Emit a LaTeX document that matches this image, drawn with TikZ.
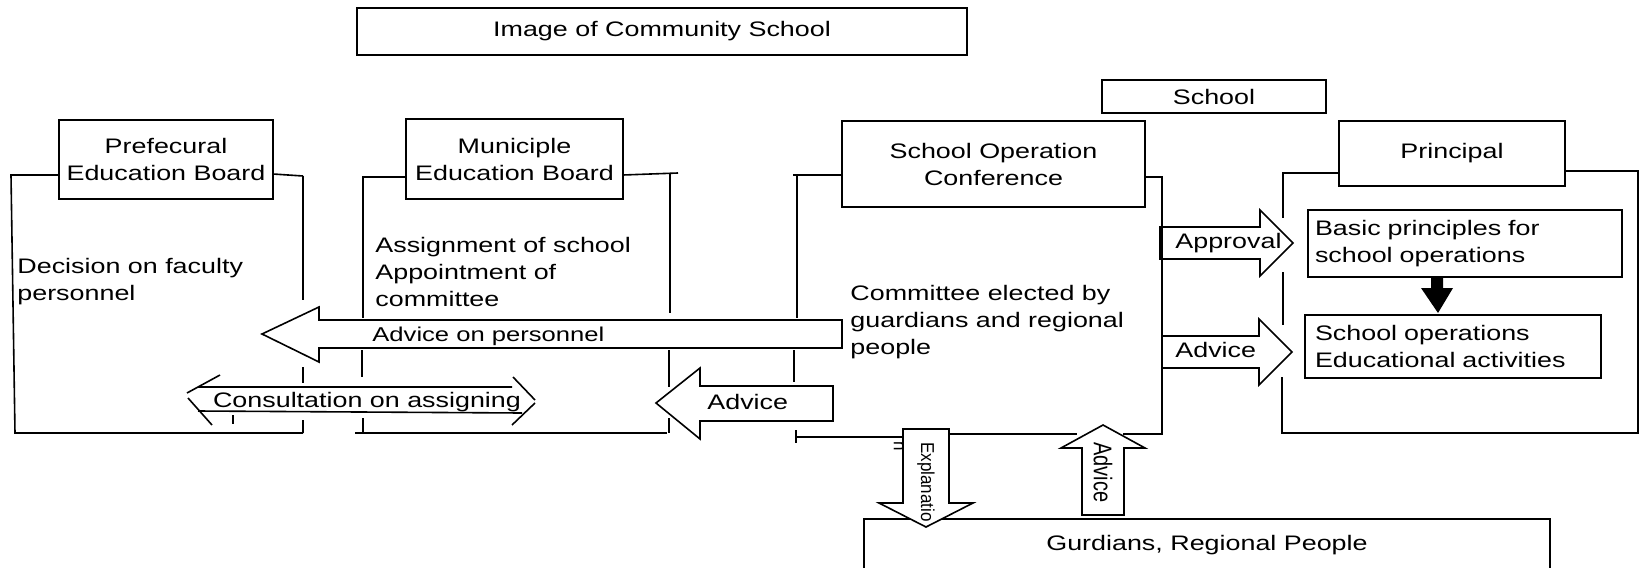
\documentclass[tikz,border=0pt]{standalone}
\usepackage{fontspec}
\setmainfont{Liberation Sans}[FakeStretch=1.28]
\newfontfamily\rotfont{Liberation Sans}
\begin{document}
\begin{tikzpicture}[x=0.5pt,y=-0.5pt,font=\fontsize{10.5}{13.5}\selectfont]
\tikzset{
  box/.style={draw, line width=0.8pt, align=center, inner sep=0pt},
  ln/.style={line width=0.8pt},
  blockarrow/.style={draw, fill=white, line width=0.8pt, line join=miter},
  lbl/.style={inner sep=0pt},
  txt/.style={inner sep=0pt, align=left, anchor=north west},
  rot/.style={inner sep=0pt, rotate=-90, anchor=west},
}
\useasboundingbox[fill=white] (0,0) rectangle (1641,567);

% boxes
\node[box, minimum width=305pt, minimum height=23.5pt] (title) at (662,31.5) {Image of Community School};
\node[box, minimum width=112pt, minimum height=16.5pt] (school) at (1214,96.5) {School};
\node[box, minimum width=107pt, minimum height=39.5pt] (pref) at (166,159.5) {Prefecural\\Education Board};
\node[box, minimum width=108.5pt, minimum height=40pt] (muni) at (514.5,159) {Municiple\\Education Board};
\node[box, minimum width=151.5pt, minimum height=43pt] (soc) at (993.5,164) {School Operation\\Conference};
\node[box, minimum width=113pt, minimum height=32.5pt] (prin) at (1452,153.5) {Principal};
\node[box, align=left, inner xsep=3.5pt, text width=150pt, minimum height=33.5pt] (basic) at (1465,243.5) {Basic principles for\\school operations};
\node[box, align=left, inner xsep=5pt, text width=138pt, minimum height=31.5pt] (ops) at (1453,346.5) {School operations\\Educational activities};
\node[box, minimum width=343pt, minimum height=26pt] (gurd) at (1207,545) {Gurdians, Regional People};

% bracket lines
\draw[ln] (59,175) -- (11,175) -- (15,433) -- (303,433);
\draw[ln] (273,174) -- (303,176);
\draw[ln] (303,176) -- (303,300) (303,367) -- (303,383) (303,420) -- (303,433);
\draw[ln] (406,177) -- (362,177);
\draw[ln] (363,177) -- (363,318) (362,350) -- (362,377) (363,418) -- (363,433);
\draw[ln] (355,433) -- (667,433);
\draw[ln] (623,175) -- (678,173);
\draw[ln] (670,174) -- (670,313) (669,350) -- (669,387) (669,418) -- (669,433);
\draw[ln] (842,175) -- (793,175);
\draw[ln] (797,175) -- (797,318) (794,350) -- (794,382);
\draw[ln] (796,430) -- (796,443) (796,437) -- (903,437);
\draw[ln] (949,434) -- (1077,434);
\draw[ln] (1339,173) -- (1283,173) -- (1283,218) (1283,272) -- (1283,325) (1282,377) -- (1282,433) -- (1638,433) -- (1638,171) -- (1565,171);

% block arrows
\draw[blockarrow] (262,334) -- (319,307) -- (319,320) -- (842,320) -- (842,348) -- (319,348) -- (319,362) -- cycle;
\draw[blockarrow] (656,403) -- (700,368) -- (700,386) -- (833,386) -- (833,421) -- (700,421) -- (700,439) -- cycle;
\draw[blockarrow] (1160,227) -- (1260,227) -- (1260,210) -- (1293,243) -- (1260,276) -- (1260,259) -- (1160,259) -- cycle;
\draw[blockarrow] (1162,336) -- (1259,336) -- (1259,319) -- (1292,352) -- (1259,385) -- (1259,368) -- (1162,368) -- cycle;
\draw[blockarrow] (903,429) -- (949,429) -- (949,503) -- (973,503) -- (926,527) -- (879,503) -- (903,503) -- cycle;
\draw[blockarrow] (1082,515) -- (1124,515) -- (1124,448) -- (1145,448) -- (1103,425) -- (1061,448) -- (1082,448) -- cycle;
\draw[ln] (1145,177) -- (1162,177) -- (1162,434) -- (1123,434);
\fill (1431,277) -- (1443,277) -- (1443,288) -- (1453,288) -- (1438,313) -- (1421,288) -- (1431,288) -- cycle;

% consultation open arrow
\draw[ln] (198,387) -- (512,387) (198,411) -- (522,413);
\draw[ln] (220,375) -- (187,393) (188,398) -- (212,425);
\draw[ln] (513,377) -- (535,400) (535,403) -- (512,425);
\draw[ln] (233,415) -- (233,424);

% labels
\node[txt] (dec) at (17,258) {\fontsize{10.5}{12.5}\selectfont Decision on faculty\\personnel};
\node[txt] (assign) at (375,237) {\fontsize{10.5}{13}\selectfont Assignment of school\\Appointment of\\committee};
\node[txt] (comm) at (850,285) {\fontsize{10.5}{13.75}\selectfont Committee elected by\\guardians and regional\\people};
\node[lbl, anchor=base west] (lpers) at (372,341) {\fontsize{10}{12}\selectfont Advice on personnel};
\node[lbl, anchor=base] (lcons) at (367,407) {Consultation on assigning};
\node[lbl, anchor=base west] (ladv1) at (707,409) {Advice};
\node[lbl, anchor=base west] (lappr) at (1175,248) {Approval};
\node[lbl, anchor=base west] (ladv2) at (1175,357) {Advice};
\node[rot, yscale=1.1] (lexp) at (926,442) {\rotfont\fontsize{8.5}{10}\selectfont Explanatio};
\node[rot, yscale=1.1] (lexpn) at (899,441) {\rotfont\fontsize{8.5}{10}\selectfont n};
\node[rot, yscale=1.28] (ladv3) at (1103,442) {\rotfont\fontsize{10}{12}\selectfont Advice};
\end{tikzpicture}
\end{document}
